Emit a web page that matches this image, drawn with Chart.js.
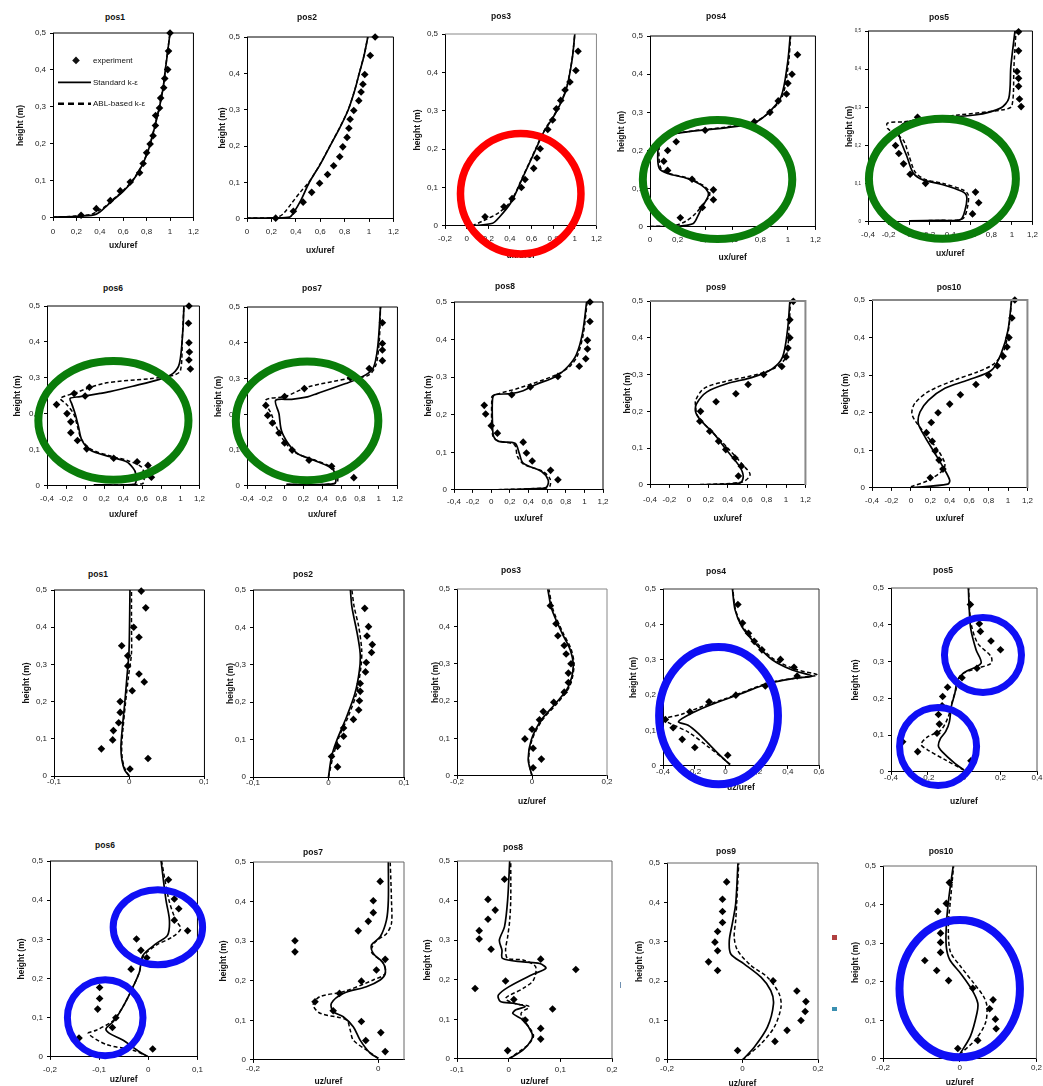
<!DOCTYPE html>
<html><head><meta charset="utf-8">
<script src="https://cdn.jsdelivr.net/npm/chart.js@4.4.0/dist/chart.umd.min.js"></script>
<style>
html,body{margin:0;padding:0;background:#fff;}
body{width:1043px;height:1086px;position:relative;overflow:hidden;font-family:"Liberation Sans",Arial,sans-serif;}
.pan{position:absolute;}
.pan canvas{display:block;}
.ttl{position:absolute;font:bold 8.5px "Liberation Sans",Arial,sans-serif;color:#111;transform:translate(-50%,-50%);white-space:nowrap;}
.mark{position:absolute;}
</style></head><body>
<script>
// ---------- DATA: streamwise velocity ux/uref, [value, height m] ----------
const ux1_exp=[[0.24,0.007],[0.37,0.025],[0.49,0.047],[0.575,0.073],[0.66,0.097],[0.74,0.122],[0.77,0.147],[0.80,0.176],[0.83,0.2],[0.855,0.222],[0.875,0.25],[0.877,0.277],[0.91,0.297],[0.92,0.324],[0.946,0.352],[0.955,0.377],[0.98,0.401],[0.987,0.451],[1.0,0.5]];
const ux1_std=[[0,0.002],[0.2,0.004],[0.35,0.008],[0.4,0.016],[0.45,0.03],[0.52,0.05],[0.6,0.072],[0.68,0.1],[0.75,0.135],[0.8,0.17],[0.84,0.21],[0.88,0.26],[0.91,0.3],[0.94,0.35],[0.96,0.4],[0.98,0.45],[1.0,0.5]];
const ux1_abl=[[0,0.002],[0.2,0.005],[0.33,0.01],[0.39,0.02],[0.45,0.032],[0.52,0.052],[0.6,0.074],[0.68,0.102],[0.75,0.137],[0.8,0.172],[0.84,0.212],[0.88,0.262],[0.91,0.302],[0.94,0.352],[0.96,0.402],[0.98,0.452],[1.0,0.5]];
const ux2_exp=[[0.235,0.002],[0.38,0.021],[0.46,0.046],[0.53,0.073],[0.595,0.098],[0.66,0.122],[0.71,0.146],[0.76,0.171],[0.785,0.198],[0.82,0.224],[0.835,0.249],[0.845,0.274],[0.875,0.298],[0.916,0.325],[0.935,0.349],[0.95,0.37],[0.965,0.397],[1.01,0.449],[1.05,0.5]];
const ux2_std=[[0,0.002],[0.2,0.003],[0.35,0.005],[0.38,0.016],[0.44,0.05],[0.51,0.1],[0.6,0.15],[0.68,0.2],[0.76,0.25],[0.83,0.3],[0.88,0.35],[0.92,0.4],[0.96,0.45],[0.99,0.5]];
const ux2_abl=[[0,0.002],[0.2,0.003],[0.26,0.006],[0.3,0.015],[0.37,0.045],[0.44,0.075],[0.51,0.102],[0.6,0.151],[0.68,0.201],[0.76,0.251],[0.83,0.301],[0.88,0.351],[0.92,0.401],[0.96,0.451],[0.99,0.5]];
const ux3_exp=[[0.17,0.024],[0.345,0.05],[0.42,0.071],[0.506,0.1],[0.54,0.121],[0.62,0.15],[0.65,0.177],[0.68,0.201],[0.75,0.251],[0.795,0.276],[0.83,0.305],[0.87,0.327],[0.91,0.354],[0.955,0.375],[1.01,0.405],[1.03,0.455]];
const ux3_std=[[0.05,0.0],[0.24,0.007],[0.3,0.022],[0.41,0.061],[0.525,0.13],[0.64,0.2],[0.71,0.243],[0.825,0.295],[0.92,0.355],[0.975,0.433],[1.0,0.5]];
const ux3_abl=[[0.05,0.0],[0.15,0.013],[0.3,0.035],[0.41,0.065],[0.525,0.132],[0.64,0.202],[0.71,0.245],[0.825,0.297],[0.92,0.357],[0.975,0.435],[1.0,0.5]];
const ux4_exp=[[0.22,0.024],[0.38,0.051],[0.46,0.071],[0.46,0.097],[0.305,0.125],[0.128,0.148],[0.1,0.172],[0.128,0.2],[0.19,0.223],[0.4,0.253],[0.756,0.275],[0.87,0.3],[0.93,0.33],[0.99,0.348],[1.0,0.376],[1.03,0.4],[1.07,0.451]];
const ux4_std=[[0,0.001],[0.18,0.001],[0.31,0.008],[0.345,0.027],[0.38,0.053],[0.42,0.079],[0.42,0.092],[0.37,0.11],[0.27,0.127],[0.128,0.14],[0.068,0.153],[0.056,0.184],[0.068,0.219],[0.128,0.24],[0.27,0.249],[0.56,0.26],[0.756,0.273],[0.85,0.296],[0.95,0.34],[0.997,0.427],[1.017,0.5]];
const ux4_abl=[[0,0.001],[0.18,0.004],[0.26,0.015],[0.33,0.035],[0.39,0.062],[0.43,0.08],[0.43,0.093],[0.38,0.11],[0.28,0.127],[0.14,0.14],[0.08,0.153],[0.065,0.184],[0.075,0.22],[0.14,0.24],[0.28,0.25],[0.56,0.262],[0.756,0.275],[0.86,0.298],[0.96,0.342],[1.005,0.43],[1.02,0.5]];
const ux5_exp=[[0.617,0.021],[0.677,0.05],[0.646,0.078],[0.16,0.101],[0.01,0.125],[-0.054,0.152],[-0.1,0.179],[-0.132,0.2],[0.082,0.274],[1.09,0.302],[1.074,0.322],[1.065,0.355],[1.065,0.376],[1.05,0.394],[1.065,0.448],[1.065,0.498]];
const ux5_std=[[0,0.003],[0.3,0.004],[0.5,0.006],[0.545,0.032],[0.56,0.067],[0.513,0.08],[0.32,0.098],[0.135,0.11],[0.04,0.128],[-0.022,0.172],[-0.085,0.215],[-0.1,0.237],[-0.054,0.258],[0.167,0.271],[0.64,0.28],[0.89,0.298],[0.97,0.324],[0.99,0.407],[1.03,0.5]];
const ux5_abl=[[0,0.003],[0.3,0.004],[0.52,0.008],[0.565,0.035],[0.576,0.07],[0.53,0.083],[0.34,0.1],[0.15,0.112],[0.06,0.13],[0.0,0.172],[-0.06,0.215],[-0.21,0.245],[-0.21,0.259],[-0.05,0.262],[0.2,0.272],[0.48,0.28],[0.92,0.294],[1.0,0.304],[1.02,0.407],[1.04,0.5]];
const ux6_exp=[[0.696,0.024],[0.66,0.057],[0.546,0.067],[0.3,0.077],[0.017,0.103],[-0.08,0.126],[-0.15,0.148],[-0.15,0.178],[-0.19,0.201],[-0.3,0.226],[0.0,0.25],[-0.115,0.257],[0.045,0.274],[1.105,0.325],[1.09,0.35],[1.095,0.372],[1.09,0.398],[1.085,0.452],[1.09,0.5]];
const ux6_std=[[0.09,0.003],[0.52,0.005],[0.53,0.035],[0.505,0.049],[0.435,0.067],[0.26,0.081],[0.052,0.1],[-0.035,0.128],[-0.07,0.165],[-0.104,0.2],[-0.14,0.228],[-0.157,0.243],[-0.052,0.248],[0.157,0.257],[0.26,0.262],[0.5,0.277],[0.78,0.296],[0.92,0.312],[0.99,0.34],[1.026,0.432],[1.037,0.5]];
const ux6_abl=[[0.1,0.003],[0.6,0.006],[0.61,0.044],[0.58,0.055],[0.45,0.07],[0.27,0.083],[0.06,0.102],[-0.04,0.13],[-0.08,0.165],[-0.12,0.2],[-0.2,0.228],[-0.26,0.243],[-0.12,0.257],[0.2,0.285],[0.68,0.298],[0.92,0.307],[1.0,0.32],[1.02,0.41],[1.037,0.5]];
const ux7_exp=[[0.736,0.023],[0.5,0.055],[0.26,0.072],[0.08,0.1],[0.0,0.12],[-0.06,0.148],[-0.13,0.176],[-0.18,0.197],[-0.2,0.225],[0.0,0.25],[0.21,0.272],[0.7,0.302],[0.9,0.328],[1.04,0.35],[1.04,0.38],[1.04,0.398],[1.04,0.456]];
const ux7_std=[[0.02,0.004],[0.53,0.0065],[0.53,0.039],[0.48,0.053],[0.31,0.072],[0.14,0.09],[0.04,0.118],[-0.034,0.155],[-0.06,0.202],[-0.095,0.239],[0.075,0.242],[0.244,0.249],[0.345,0.258],[0.65,0.286],[0.82,0.304],[0.94,0.328],[0.99,0.388],[1.02,0.5]];
const ux7_abl=[[0.02,0.004],[0.55,0.008],[0.55,0.04],[0.49,0.054],[0.3,0.074],[0.12,0.092],[0.01,0.12],[-0.07,0.155],[-0.14,0.2],[-0.2,0.24],[0.007,0.25],[0.244,0.276],[0.68,0.3],[0.89,0.309],[0.97,0.337],[1.007,0.407],[1.02,0.5]];
const ux8_exp=[[0.716,0.027],[0.637,0.052],[0.44,0.077],[0.378,0.098],[0.343,0.127],[0.066,0.151],[0.0,0.171],[-0.06,0.202],[-0.075,0.225],[0.22,0.253],[0.42,0.274],[0.716,0.302],[0.945,0.329],[1.015,0.349],[1.033,0.375],[1.033,0.398],[1.06,0.448],[1.06,0.5]];
const ux8_std=[[0,0.0],[0.56,0.004],[0.6,0.009],[0.61,0.027],[0.54,0.049],[0.343,0.071],[0.3,0.098],[0.255,0.124],[0.08,0.129],[0.026,0.142],[0.013,0.178],[0.013,0.24],[0.035,0.253],[0.21,0.256],[0.343,0.264],[0.475,0.28],[0.695,0.302],[0.826,0.329],[0.914,0.36],[0.98,0.417],[1.024,0.5]];
const ux8_abl=[[0,0.0],[0.58,0.005],[0.63,0.01],[0.63,0.03],[0.55,0.05],[0.35,0.068],[0.28,0.09],[0.25,0.12],[0.08,0.13],[0.02,0.142],[0.005,0.178],[0.005,0.235],[0.013,0.25],[0.3,0.271],[0.695,0.306],[0.85,0.33],[0.93,0.36],[0.99,0.417],[1.03,0.5]];
const ux9_exp=[[0.51,0.024],[0.54,0.051],[0.475,0.073],[0.38,0.096],[0.306,0.119],[0.215,0.146],[0.113,0.173],[0.12,0.2],[0.28,0.226],[0.484,0.248],[0.61,0.273],[0.77,0.3],[0.957,0.322],[1.0,0.348],[1.02,0.372],[1.04,0.4],[1.04,0.449],[1.075,0.499]];
const ux9_std=[[0.05,0.0],[0.525,0.005],[0.56,0.022],[0.525,0.049],[0.39,0.094],[0.255,0.14],[0.12,0.176],[0.07,0.198],[0.08,0.221],[0.187,0.253],[0.39,0.275],[0.66,0.293],[0.86,0.316],[0.965,0.348],[1.015,0.42],[1.04,0.5]];
const ux9_abl=[[0.05,0.0],[0.55,0.008],[0.63,0.028],[0.56,0.053],[0.39,0.103],[0.204,0.153],[0.086,0.19],[0.07,0.212],[0.07,0.23],[0.153,0.262],[0.356,0.28],[0.727,0.302],[0.897,0.32],[1.0,0.348],[1.03,0.42],[1.045,0.5]];
const ux10_exp=[[0.2,0.027],[0.33,0.05],[0.29,0.074],[0.25,0.098],[0.22,0.124],[0.16,0.147],[0.21,0.174],[0.28,0.2],[0.4,0.223],[0.51,0.248],[0.67,0.275],[0.8,0.3],[0.89,0.325],[0.95,0.35],[0.99,0.375],[1.01,0.4],[1.04,0.452],[1.07,0.5]];
const ux10_std=[[0,0.0],[0.38,0.01],[0.4,0.02],[0.35,0.047],[0.25,0.091],[0.145,0.136],[0.077,0.171],[0.094,0.202],[0.18,0.233],[0.35,0.265],[0.59,0.287],[0.83,0.313],[0.93,0.358],[1.0,0.42],[1.037,0.5]];
const ux10_abl=[[0,0.003],[0.18,0.02],[0.33,0.047],[0.35,0.065],[0.28,0.1],[0.145,0.145],[0.04,0.18],[0.01,0.2],[0.04,0.225],[0.18,0.256],[0.45,0.287],[0.69,0.309],[0.86,0.331],[0.96,0.367],[1.01,0.43],[1.037,0.5]];

// ---------- DATA: vertical velocity uz/uref, [value, height m] ----------
const uz1_exp=[[0.001,0.019],[0.025,0.047],[-0.037,0.073],[-0.022,0.097],[-0.021,0.122],[-0.014,0.143],[-0.012,0.171],[-0.012,0.2],[0.004,0.229],[0.02,0.253],[0.013,0.274],[-0.002,0.296],[-0.002,0.323],[-0.01,0.35],[0.013,0.373],[0.006,0.4],[0.022,0.452],[0.016,0.497]];
const uz1_std=[[0,0],[-0.006,0.016],[-0.0097,0.043],[-0.011,0.079],[-0.009,0.133],[-0.006,0.195],[-0.003,0.267],[-0.0004,0.33],[0.0004,0.401],[0.001,0.5]];
const uz1_abl=[[0,0],[-0.005,0.016],[-0.009,0.043],[-0.010,0.079],[-0.008,0.133],[-0.005,0.195],[-0.001,0.267],[0.003,0.33],[0.003,0.4],[0.003,0.5]];
const uz2_exp=[[0.012,0.027],[0.004,0.055],[0.012,0.082],[0.02,0.109],[0.02,0.131],[0.033,0.154],[0.04,0.179],[0.041,0.204],[0.042,0.229],[0.042,0.25],[0.049,0.281],[0.05,0.306],[0.057,0.333],[0.058,0.354],[0.051,0.377],[0.053,0.402],[0.048,0.451]];
const uz2_std=[[0,0],[0.004,0.054],[0.011,0.098],[0.024,0.161],[0.035,0.223],[0.041,0.286],[0.042,0.33],[0.038,0.384],[0.031,0.455],[0.029,0.5]];
const uz2_abl=[[0,0],[0.006,0.054],[0.014,0.107],[0.026,0.161],[0.037,0.223],[0.043,0.295],[0.044,0.339],[0.04,0.402],[0.034,0.455],[0.031,0.5]];
const uz3_exp=[[0.003,0.022],[0.025,0.045],[0.003,0.074],[-0.019,0.099],[0.0,0.125],[0.02,0.15],[0.03,0.172],[0.058,0.197],[0.086,0.224],[0.097,0.25],[0.097,0.275],[0.104,0.3],[0.091,0.326],[0.086,0.349],[0.069,0.375],[0.064,0.407],[0.049,0.455]];
const uz3_std=[[0,0],[-0.01,0.043],[-0.002,0.096],[0.025,0.15],[0.064,0.195],[0.097,0.239],[0.11,0.293],[0.102,0.337],[0.08,0.382],[0.053,0.445],[0.042,0.5]];
const uz3_abl=[[0,0],[-0.009,0.043],[0.0,0.096],[0.028,0.15],[0.068,0.195],[0.1,0.239],[0.112,0.293],[0.105,0.337],[0.083,0.382],[0.056,0.445],[0.045,0.5]];
const uz4_exp=[[0.015,0.03],[-0.196,0.052],[-0.277,0.075],[-0.335,0.108],[-0.385,0.131],[-0.228,0.153],[-0.105,0.181],[0.067,0.2],[0.256,0.226],[0.46,0.254],[0.44,0.279],[0.353,0.301],[0.234,0.328],[0.185,0.352],[0.148,0.375],[0.11,0.404],[0.08,0.456]];
const uz4_std=[[0.03,0.004],[0.015,0.009],[-0.067,0.044],[-0.174,0.092],[-0.239,0.115],[-0.3,0.125],[-0.196,0.153],[-0.067,0.177],[0.105,0.205],[0.277,0.233],[0.45,0.248],[0.553,0.254],[0.428,0.271],[0.3,0.3],[0.19,0.347],[0.105,0.394],[0.062,0.441],[0.045,0.5]];
const uz4_abl=[[0.03,0.004],[0.01,0.012],[-0.11,0.054],[-0.24,0.096],[-0.39,0.131],[-0.28,0.146],[-0.153,0.167],[0.0,0.19],[0.105,0.207],[0.28,0.235],[0.48,0.25],[0.59,0.257],[0.45,0.273],[0.31,0.302],[0.2,0.348],[0.11,0.395],[0.065,0.441],[0.047,0.5]];
const uz5_exp=[[0.038,0.03],[-0.254,0.055],[-0.336,0.082],[-0.148,0.105],[-0.135,0.13],[-0.14,0.156],[-0.12,0.18],[-0.117,0.205],[-0.09,0.23],[-0.011,0.256],[0.071,0.282],[0.2,0.332],[0.148,0.356],[0.09,0.382],[0.084,0.403],[0.035,0.455]];
const uz5_std=[[0,0.005],[-0.05,0.023],[-0.12,0.055],[-0.14,0.07],[-0.13,0.09],[-0.1,0.11],[-0.08,0.136],[-0.07,0.177],[-0.05,0.214],[-0.035,0.25],[0,0.27],[0.093,0.295],[0.066,0.332],[0.038,0.386],[0.029,0.44],[0.024,0.5]];
const uz5_abl=[[0,0.005],[-0.1,0.032],[-0.2,0.06],[-0.235,0.075],[-0.2,0.095],[-0.126,0.114],[-0.086,0.15],[-0.065,0.19],[-0.04,0.23],[-0.016,0.264],[0.075,0.282],[0.148,0.295],[0.148,0.314],[0.075,0.35],[0.04,0.4],[0.029,0.45],[0.025,0.5]];
const uz6_exp=[[0.009,0.02],[-0.141,0.048],[-0.073,0.075],[-0.066,0.1],[-0.103,0.122],[-0.099,0.149],[-0.099,0.177],[-0.035,0.224],[-0.003,0.253],[-0.015,0.272],[-0.024,0.301],[0.08,0.322],[0.053,0.349],[0.062,0.378],[0.053,0.403],[0.041,0.452]];
const uz6_std=[[0,0],[-0.018,0.013],[-0.052,0.043],[-0.079,0.06],[-0.086,0.072],[-0.072,0.089],[-0.062,0.106],[-0.048,0.136],[-0.031,0.179],[-0.018,0.217],[-0.011,0.259],[0.016,0.289],[0.039,0.31],[0.043,0.349],[0.036,0.4],[0.026,0.5]];
const uz6_abl=[[0,0],[-0.031,0.017],[-0.086,0.032],[-0.122,0.06],[-0.106,0.068],[-0.075,0.089],[-0.063,0.106],[-0.048,0.136],[-0.031,0.179],[-0.018,0.217],[-0.011,0.255],[0.016,0.285],[0.049,0.306],[0.066,0.327],[0.056,0.349],[0.042,0.4],[0.027,0.5]];
const uz7_exp=[[0.011,0.021],[-0.02,0.049],[0.004,0.069],[-0.027,0.097],[-0.072,0.124],[-0.101,0.147],[-0.062,0.168],[-0.027,0.199],[-0.003,0.227],[0.011,0.254],[-0.133,0.273],[-0.133,0.301],[-0.032,0.326],[-0.016,0.35],[-0.008,0.372],[-0.008,0.402],[0.003,0.451]];
const uz7_std=[[0,0.004],[-0.013,0.017],[-0.029,0.05],[-0.04,0.084],[-0.056,0.109],[-0.072,0.122],[-0.075,0.143],[-0.056,0.168],[-0.019,0.185],[0.003,0.202],[0.011,0.218],[0.008,0.244],[-0.008,0.269],[-0.011,0.29],[0.003,0.311],[0.013,0.353],[0.016,0.403],[0.016,0.5]];
const uz7_abl=[[0,0.004],[-0.019,0.025],[-0.04,0.05],[-0.045,0.076],[-0.051,0.101],[-0.093,0.118],[-0.104,0.139],[-0.093,0.16],[-0.056,0.172],[-0.008,0.202],[0.011,0.218],[0.008,0.244],[-0.011,0.273],[-0.005,0.298],[0.013,0.319],[0.021,0.345],[0.021,0.403],[0.019,0.5]];
const uz8_exp=[[-0.002,0.021],[0.062,0.05],[0.062,0.077],[0.032,0.098],[0.085,0.126],[0.01,0.15],[-0.065,0.178],[-0.006,0.197],[0.13,0.226],[0.062,0.252],[-0.034,0.277],[-0.057,0.303],[-0.057,0.324],[-0.04,0.353],[-0.026,0.376],[-0.04,0.403],[-0.008,0.454]];
const uz8_std=[[0,0],[0.028,0.023],[0.044,0.048],[0.045,0.065],[0.028,0.098],[0.008,0.115],[0.014,0.124],[0.032,0.132],[0.012,0.14],[-0.016,0.145],[-0.02,0.161],[0,0.182],[0.044,0.212],[0.072,0.229],[0.06,0.241],[0.028,0.245],[-0.012,0.254],[-0.013,0.275],[-0.018,0.3],[-0.008,0.334],[-0.002,0.401],[0.002,0.5]];
const uz8_abl=[[0,0],[0.02,0.018],[0.04,0.039],[0.048,0.06],[0.032,0.094],[0.024,0.115],[0.04,0.132],[0.012,0.14],[-0.006,0.153],[0.028,0.178],[0.048,0.199],[0.052,0.233],[0.028,0.25],[-0.002,0.254],[-0.006,0.275],[-0.002,0.308],[0.002,0.35],[0.004,0.401],[0.004,0.5]];
const uz9_exp=[[-0.013,0.024],[0.086,0.047],[0.118,0.075],[0.155,0.1],[0.166,0.123],[0.168,0.148],[0.144,0.175],[0.081,0.201],[-0.066,0.227],[-0.09,0.249],[-0.066,0.277],[-0.073,0.299],[-0.066,0.326],[-0.053,0.349],[-0.053,0.377],[-0.053,0.408],[-0.042,0.452]];
const uz9_std=[[0,0],[0.031,0.032],[0.066,0.083],[0.082,0.142],[0.075,0.176],[0.049,0.21],[0.004,0.244],[-0.031,0.269],[-0.035,0.303],[-0.027,0.346],[-0.018,0.397],[-0.012,0.5]];
const uz9_abl=[[0,0],[0.049,0.041],[0.084,0.083],[0.102,0.134],[0.097,0.168],[0.066,0.21],[0.022,0.24],[-0.013,0.278],[-0.022,0.312],[-0.018,0.354],[-0.015,0.405],[-0.01,0.5]];
const uz10_exp=[[-0.005,0.027],[0.047,0.048],[0.095,0.078],[0.093,0.103],[0.078,0.13],[0.087,0.153],[0.034,0.183],[-0.029,0.203],[-0.06,0.229],[-0.091,0.255],[-0.05,0.276],[-0.05,0.302],[-0.05,0.326],[-0.057,0.382],[-0.035,0.403],[-0.027,0.457]];
const uz10_std=[[0,0.012],[0.028,0.059],[0.045,0.119],[0.047,0.145],[0.032,0.179],[0.002,0.222],[-0.026,0.257],[-0.035,0.291],[-0.035,0.343],[-0.029,0.412],[-0.017,0.5]];
const uz10_abl=[[0,0.012],[0.041,0.05],[0.067,0.093],[0.071,0.136],[0.062,0.162],[0.036,0.197],[0.002,0.24],[-0.023,0.274],[-0.029,0.309],[-0.029,0.36],[-0.024,0.412],[-0.016,0.5]];

const seriesLabels=['experiment','Standard k-ε','ABL-based k-ε'];

// highlight ellipses, in data units of their panel
const highlights={
  ux3:[{cx:0.5,cy:0.084,rx:0.557,ry:0.157,c:'#ff0000',w:7.5}],
  ux4:[{cx:0.49,cy:0.124,rx:0.542,ry:0.156,c:'#0a7d0a',w:8}],
  ux5:[{cx:0.324,cy:0.113,rx:0.715,ry:0.157,c:'#0a7d0a',w:8}],
  ux6:[{cx:0.297,cy:0.182,rx:0.788,ry:0.165,c:'#0a7d0a',w:8}],
  ux7:[{cx:0.239,cy:0.182,rx:0.758,ry:0.166,c:'#0a7d0a',w:8}],
  uz4:[{cx:-0.044,cy:0.142,rx:0.381,ry:0.194,c:'#0f0ff5',w:8}],
  uz5:[{cx:0.104,cy:0.318,rx:0.211,ry:0.102,c:'#0f0ff5',w:7},{cx:-0.142,cy:0.069,rx:0.211,ry:0.106,c:'#0f0ff5',w:7}],
  uz6:[{cx:0.0195,cy:0.331,rx:0.091,ry:0.0957,c:'#0f0ff5',w:7},{cx:-0.0877,cy:0.1,rx:0.0769,ry:0.097,c:'#0f0ff5',w:7}],
  uz10:[{cx:0.0,cy:0.182,rx:0.157,ry:0.178,c:'#0f0ff5',w:8}]
};

// ---------- LAYOUT ----------
const panels=[
 {id:'ux1',t:'pos1',d:[ux1_exp,ux1_std,ux1_abl],x:[0,1.2,0.2],L:53,R:202,T:33.3,B:218.7,tx:115,ty:17,xt:'ux/uref',xo:28,yg:32,xk:14,rp:3,box:'#000',leg:true},
 {id:'ux2',t:'pos2',d:[ux2_exp,ux2_std,ux2_abl],x:[0,1.2,0.2],L:247.3,R:394,T:36.7,B:219,tx:307,ty:17,xt:'ux/uref',xo:32,yg:24,xk:13,rp:10,box:'#000'},
 {id:'ux3',t:'pos3',d:[ux3_exp,ux3_std,ux3_abl],x:[-0.2,1.2,0.2],L:445,R:597,T:34.3,B:226.7,tx:501,ty:16,xt:'ux/uref',xo:30,yg:27,xk:13,rp:10,box:'#888'},
 {id:'ux4',t:'pos4',d:[ux4_exp,ux4_std,ux4_abl],x:[0,1.2,0.2],L:650,R:816,T:36,B:227,tx:716,ty:16,xt:'ux/uref',xo:31,yg:28,xk:13,rp:10,box:'#000'},
 {id:'ux5',t:'pos5',d:[ux5_exp,ux5_std,ux5_abl],x:[-0.4,1.2,0.2],L:868,R:1037,T:31,B:222,tx:939,ty:17,xt:'ux/uref',xo:32,yg:18,xk:13,rp:6,box:'#000',yfs:4.5},
 {id:'ux6',t:'pos6',d:[ux6_exp,ux6_std,ux6_abl],x:[-0.4,1.2,0.2],L:46.7,R:200,T:305.7,B:486,tx:113,ty:288,xt:'ux/uref',xo:29,yg:29,xk:13,rp:10,box:'#000'},
 {id:'ux7',t:'pos7',d:[ux7_exp,ux7_std,ux7_abl],x:[-0.4,1.2,0.2],L:246.7,R:404,T:306.7,B:485.7,tx:312,ty:288,xt:'ux/uref',xo:29,yg:28,xk:13,rp:4,box:'#000'},
 {id:'ux8',t:'pos8',d:[ux8_exp,ux8_std,ux8_abl],x:[-0.4,1.2,0.2],L:453.6,R:603,T:302.3,B:490,tx:505,ty:286,xt:'ux/uref',xo:29,yg:25,xk:12,rp:10,box:'#000'},
 {id:'ux9',t:'pos9',d:[ux9_exp,ux9_std,ux9_abl],x:[-0.4,1.2,0.2],L:650,R:808,T:300.7,B:484.7,tx:716,ty:287,xt:'ux/uref',xo:34,yg:22,xk:15,rp:10,box:'#888',bw:2},
 {id:'ux10',t:'pos10',d:[ux10_exp,ux10_std,ux10_abl],x:[-0.4,1.2,0.2],L:872,R:1028,T:300,B:487.7,tx:949,ty:287,xt:'ux/uref',xo:31,yg:26,xk:13,rp:10,box:'#888',bw:2},
 {id:'uz1',t:'pos1',d:[uz1_exp,uz1_std,uz1_abl],x:[-0.1,0.1,0.1],L:54.3,R:205,T:590,B:776,tx:98,ty:574,xt:'',xo:0,yg:27,xk:6,rp:3,box:'#000'},
 {id:'uz2',t:'pos2',d:[uz2_exp,uz2_std,uz2_abl],x:[-0.1,0.1,0.1],L:253,R:404,T:590,B:777,tx:303,ty:574,xt:'',xo:0,yg:22,xk:6,rp:12,box:'#000'},
 {id:'uz3',t:'pos3',d:[uz3_exp,uz3_std,uz3_abl],x:[-0.2,0.2,0.2],L:457,R:607,T:589.3,B:776,tx:511,ty:570,xt:'uz/uref',xo:26,yg:21,xk:6,rp:10,box:'#888'},
 {id:'uz4',t:'pos4',d:[uz4_exp,uz4_std,uz4_abl],x:[-0.4,0.6,0.2],L:663,R:819,T:589.3,B:765.7,tx:716,ty:571,xt:'uz/uref',xo:22,yg:29,xk:6,rp:10,box:'#333'},
 {id:'uz5',t:'pos5',d:[uz5_exp,uz5_std,uz5_abl],x:[-0.4,0.4,0.2],L:891,R:1037,T:588.3,B:771.7,tx:943,ty:570,xt:'uz/uref',xo:30,yg:35,xk:6,rp:6,box:'#555'},
 {id:'uz6',t:'pos6',d:[uz6_exp,uz6_std,uz6_abl],x:[-0.2,0.1,0.1],L:50,R:198.3,T:860.7,B:1056.7,tx:105,ty:845,xt:'uz/uref',xo:23,yg:28,xk:13,rp:10,box:'#000'},
 {id:'uz7',t:'pos7',d:[uz7_exp,uz7_std,uz7_abl],x:[-0.2,0.041,0.2],L:253.3,R:404,T:861.7,B:1060,tx:313,ty:852,xt:'uz/uref',xo:22,yg:29,xk:9,rp:8,box:'#666'},
 {id:'uz8',t:'pos8',d:[uz8_exp,uz8_std,uz8_abl],x:[-0.1,0.2,0.1],L:457.4,R:612,T:860.7,B:1059,tx:513,ty:847,xt:'uz/uref',xo:23,yg:29,xk:11,rp:10,box:'#666'},
 {id:'uz9',t:'pos9',d:[uz9_exp,uz9_std,uz9_abl],x:[-0.2,0.2,0.2],L:667.3,R:818,T:862.7,B:1059.3,tx:726,ty:851,xt:'uz/uref',xo:24,yg:27,xk:9,rp:10,box:'#666'},
 {id:'uz10',t:'pos10',d:[uz10_exp,uz10_std,uz10_abl],x:[-0.2,0.2,0.2],L:883,R:1037,T:866,B:1059.3,tx:941,ty:851,xt:'uz/uref',xo:24,yg:27,xk:9,rp:6,box:'#666'}
];

const FF='"Liberation Sans", Arial, Helvetica, sans-serif';
function fmt(v){let r=Math.round(v*100)/100; if(r===0) r=0; return String(r).replace('.',',');}
function stepTicks(min,max,step){
  return s=>{
    const t=[]; const k0=Math.ceil(min/step-1e-9), k1=Math.floor(max/step+1e-9);
    for(let k=k0;k<=k1;k++) t.push({value:Math.round(k*step*1e6)/1e6});
    s.ticks=t;
  };
}

const decorPlugin={
  id:'decor',
  afterDatasetsDraw(chart){
    const o=chart.options.plugins.decor||{}; const ctx=chart.ctx; const a=chart.chartArea;
    ctx.save(); ctx.strokeStyle=o.box||'#000'; ctx.lineWidth=o.bw||1;
    ctx.beginPath(); ctx.moveTo(a.left,a.top); ctx.lineTo(a.right,a.top); ctx.lineTo(a.right,a.bottom); ctx.stroke();
    ctx.restore();
    if(o.legend){
      const ds=chart.data.datasets; ctx.save();
      ctx.font='8px '+FF; ctx.fillStyle='#111'; ctx.textBaseline='middle'; ctx.textAlign='left';
      const dx=a.left+23, dy=a.top+27.4, r=3.8;
      ctx.beginPath(); ctx.moveTo(dx,dy-r); ctx.lineTo(dx+r,dy); ctx.lineTo(dx,dy+r); ctx.lineTo(dx-r,dy); ctx.closePath(); ctx.fill();
      ctx.fillText(ds[0].label,a.left+40,dy);
      ctx.strokeStyle='#000'; ctx.lineWidth=1.8;
      ctx.beginPath(); ctx.moveTo(a.left+5,a.top+49.4); ctx.lineTo(a.left+38,a.top+49.4); ctx.stroke();
      ctx.fillText(ds[1].label,a.left+40,a.top+49.4);
      ctx.setLineDash([6,4]); ctx.lineWidth=2.6;
      ctx.beginPath(); ctx.moveTo(a.left+5,a.top+70.7); ctx.lineTo(a.left+38,a.top+70.7); ctx.stroke();
      ctx.setLineDash([]);
      ctx.fillText(ds[2].label,a.left+40,a.top+70.7);
      ctx.restore();
    }
  },
  afterDraw(chart){
    const o=chart.options.plugins.decor||{}; if(!o.ell) return;
    const ctx=chart.ctx, xs=chart.scales.x, ys=chart.scales.y;
    o.ell.forEach(e=>{
      const cx=xs.getPixelForValue(e.cx), cy=ys.getPixelForValue(e.cy);
      const rx=Math.abs(xs.getPixelForValue(e.cx+e.rx)-cx), ry=Math.abs(ys.getPixelForValue(e.cy+e.ry)-cy);
      ctx.save(); ctx.strokeStyle=e.c; ctx.lineWidth=e.w;
      ctx.beginPath(); ctx.ellipse(cx,cy,rx,ry,0,0,Math.PI*2); ctx.stroke(); ctx.restore();
    });
  }
};
Chart.register(decorPlugin);

panels.forEach(p=>{
  const W=48, TOP=10;
  const Hx = p.xt ? p.xo+7.1 : 22;
  const cw=Math.round(p.R-p.L+W+p.rp), ch=Math.round(p.B-p.T+TOP+Hx);
  const div=document.createElement('div'); div.className='pan';
  div.style.left=(p.L-W)+'px'; div.style.top=(p.T-TOP)+'px';
  div.style.width=cw+'px'; div.style.height=ch+'px';
  const cv=document.createElement('canvas'); cv.width=cw; cv.height=ch;
  cv.style.width=cw+'px'; cv.style.height=ch+'px';
  div.appendChild(cv); document.body.appendChild(div);

  const ttl=document.createElement('div'); ttl.className='ttl'; ttl.textContent=p.t;
  ttl.style.left=p.tx+'px'; ttl.style.top=p.ty+'px'; document.body.appendChild(ttl);

  const [xmin,xmax,xstep]=p.x;
  const toXY=arr=>arr.map(([x,y])=>({x,y}));
  new Chart(cv,{
    type:'scatter',
    data:{datasets:[
      {label:seriesLabels[0],data:toXY(p.d[0]),showLine:false,pointStyle:'rectRot',pointRadius:3.8,pointHoverRadius:3.8,backgroundColor:'#000',borderColor:'#000',borderWidth:0,clip:6},
      {label:seriesLabels[1],data:toXY(p.d[1]),showLine:true,pointRadius:0,borderColor:'#000',borderWidth:1.7,tension:0.3,fill:false},
      {label:seriesLabels[2],data:toXY(p.d[2]),showLine:true,pointRadius:0,borderColor:'#000',borderWidth:1.5,borderDash:[4,2.5],tension:0.3,fill:false}
    ]},
    options:{
      responsive:false,animation:false,devicePixelRatio:1,
      events:[],
      layout:{padding:{top:TOP,left:0,right:p.rp,bottom:0},autoPadding:false},
      plugins:{legend:{display:false},title:{display:false},tooltip:{enabled:false},
        decor:{box:p.box,bw:p.bw,legend:!!p.leg,ell:highlights[p.id]}},
      scales:{
        x:{type:'linear',min:xmin,max:xmax,
          afterBuildTicks:stepTicks(xmin,xmax,xstep),
          afterFit:s=>{s.height=Hx;},
          ticks:{autoSkip:false,maxRotation:0,minRotation:0,padding:p.xk-3-5,color:'#222',font:{family:FF,size:8},callback:v=>fmt(v)},
          grid:{display:true,drawOnChartArea:false,drawTicks:true,tickLength:3,color:'#000',lineWidth:1},
          border:{display:true,color:'#000',width:1},
          title:{display:!!p.xt,text:p.xt,color:'#111',font:{family:FF,size:8.5,weight:'bold'},padding:{top:0,bottom:2}}
        },
        y:{type:'linear',min:0,max:0.5,
          afterBuildTicks:stepTicks(0,0.5,0.1),
          afterFit:s=>{s.width=W;},
          ticks:{autoSkip:false,padding:4,color:'#222',font:{family:FF,size:p.yfs||8},callback:v=>fmt(v)},
          grid:{display:true,drawOnChartArea:false,drawTicks:true,tickLength:3,color:'#000',lineWidth:1},
          border:{display:true,color:'#000',width:1},
          title:{display:true,text:'height (m)',color:'#111',font:{family:FF,size:8.5,weight:'bold'},padding:{top:W-p.yg-5.1,bottom:0}}
        }
      }
    }
  });
});

// small stray colour marks present in the original figure
[[832,935,5,5,'#b04040'],[832,1007,5,4,'#3a8fb0'],[620,982,1,6,'#7090b0']].forEach(([l,t,w,h,c])=>{
  const m=document.createElement('div'); m.className='mark';
  m.style.left=l+'px'; m.style.top=t+'px'; m.style.width=w+'px'; m.style.height=h+'px'; m.style.background=c;
  document.body.appendChild(m);
});
</script>
</body></html>
